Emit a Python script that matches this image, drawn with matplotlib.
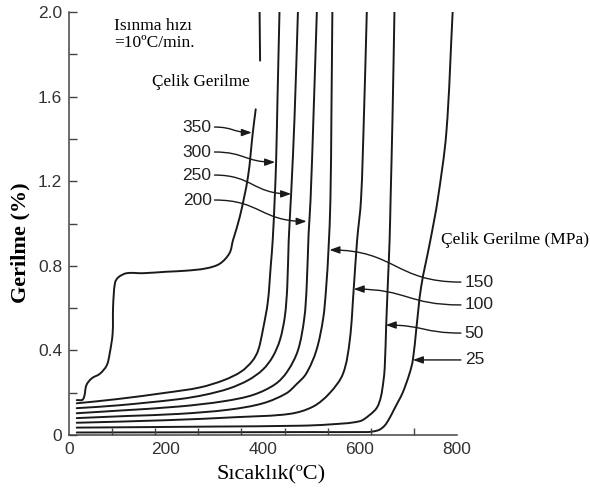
import numpy as np
import matplotlib
matplotlib.use("Agg")
import matplotlib.pyplot as plt
from matplotlib.path import Path
from matplotlib.patches import FancyArrowPatch, PathPatch

nan = np.nan

# Strain (%) vs temperature (deg C) for each steel stress level (MPa)
t_350 = [16, 29, 36, 47, 64, 78, 84, 90, 91, 95, 102, 119, 153, 201, 242, 283, 311, 331, 338, 352, 369, 379, 385, nan, 394, 393]
e_350 = [0.165, 0.169, 0.236, 0.268, 0.29, 0.33, 0.386, 0.48, 0.61, 0.72, 0.746, 0.765, 0.765, 0.772, 0.777, 0.788, 0.81, 0.86, 0.92, 1.03, 1.22, 1.43, 1.54, nan, 1.77, 2.0]

t_300 = [16, 100, 200, 270, 320, 355, 378, 390, 400, 410, 416, 420, 424, 427, 430, 434]
e_300 = [0.15, 0.17, 0.20, 0.225, 0.26, 0.30, 0.35, 0.40, 0.50, 0.63, 0.80, 0.92, 1.11, 1.29, 1.6, 2.0]

t_250 = [16, 100, 228, 280, 330, 370, 400, 420, 435, 445, 450, 453, 458, 465, 472]
e_250 = [0.127, 0.14, 0.17, 0.19, 0.22, 0.26, 0.31, 0.37, 0.45, 0.56, 0.70, 0.92, 1.14, 1.5, 2.0]

t_200 = [16, 100, 228, 320, 380, 425, 450, 472, 485, 490, 494, 498, 504, 511]
e_200 = [0.103, 0.115, 0.135, 0.16, 0.19, 0.24, 0.30, 0.40, 0.55, 0.70, 0.95, 1.11, 1.5, 2.0]

t_150 = [16, 120, 228, 330, 400, 448, 469, 489, 510, 524, 530, 535, 539, 541, 543]
e_150 = [0.08, 0.09, 0.10, 0.12, 0.15, 0.197, 0.24, 0.29, 0.40, 0.55, 0.69, 0.875, 1.11, 1.5, 2.0]

t_100 = [16, 200, 350, 455, 503, 537, 565, 579, 587, 594, 602, 608, 614]
e_100 = [0.058, 0.07, 0.085, 0.10, 0.134, 0.197, 0.29, 0.45, 0.69, 0.92, 1.11, 1.5, 2.0]

t_50 = [16, 300, 476, 537, 599, 620, 635, 643, 648, 651, 654, 658, 661, 663, 667, 671]
e_50 = [0.035, 0.04, 0.044, 0.05, 0.065, 0.095, 0.13, 0.18, 0.25, 0.32, 0.52, 0.75, 0.92, 1.11, 1.5, 2.0]

t_25 = [16, 300, 500, 610, 625, 640, 651, 661, 670, 678, 688, 702, 709, 716, 726, 745, 760, 778, 791]
e_25 = [0.012, 0.013, 0.014, 0.014, 0.016, 0.025, 0.045, 0.08, 0.12, 0.155, 0.20, 0.29, 0.355, 0.5, 0.70, 0.92, 1.11, 1.43, 2.0]

curves = [(t_350, e_350), (t_300, e_300), (t_250, e_250), (t_200, e_200),
          (t_150, e_150), (t_100, e_100), (t_50, e_50), (t_25, e_25)]

x_ticks = [0, 200, 400, 600, 800]
y_ticks = [0, 0.4, 0.8, 1.2, 1.6, 2.0]
y_tick_labels = ["0", "0.4", "0.8", "1.2", "1.6", "2.0"]

# Stress labels: text, label anchor (T, strain), arrow tip (T, strain)
left_labels = [("350", (300, 1.456), (377, 1.43)),
               ("300", (300, 1.338), (425, 1.29)),
               ("250", (300, 1.229), (458, 1.14)),
               ("200", (300, 1.111), (490, 1.01))]
right_labels = [("150", (808, 0.723), (537, 0.875)),
                ("100", (808, 0.615), (587, 0.69)),
                ("50", (808, 0.482), (653, 0.52)),
                ("25", (808, 0.355), (709, 0.355))]

SANS = ["Liberation Sans", "DejaVu Sans"]
SERIF = ["Liberation Serif", "DejaVu Serif"]
INK = "#1a1a1a"

fig = plt.figure(figsize=(5.9, 4.93), dpi=100)
ax = fig.add_axes([0.1169, 0.1176, 0.6577, 0.8581])
ax.set_xlim(0, 800)
ax.set_ylim(0, 2.0)

# approximate pixel scale of the axes, used so the curve smoothing is isotropic
SX, SY = 388 / 800.0, 423 / 2.0


def smooth_path(t, e):
    """Bezier path passing through every given point, with tangents taken
    from neighbouring points (no overshoot on uneven spacing)."""
    verts, codes = [], []
    t = np.asarray(t, float)
    e = np.asarray(e, float)
    breaks = np.where(np.isnan(t))[0]
    pieces = np.split(np.arange(len(t)), breaks)
    for idx in pieces:
        idx = idx[~np.isnan(t[idx])]
        if len(idx) < 2:
            continue
        p = np.column_stack([t[idx] * SX, e[idx] * SY])
        n = len(p)
        tang = np.zeros_like(p)
        for i in range(n):
            a = p[max(i - 1, 0)]
            b = p[min(i + 1, n - 1)]
            d = b - a
            tang[i] = d / np.hypot(*d)
        verts.append(p[0]); codes.append(Path.MOVETO)
        for i in range(n - 1):
            L = np.hypot(*(p[i + 1] - p[i])) / 3.0
            verts.append(p[i] + tang[i] * L); codes.append(Path.CURVE4)
            verts.append(p[i + 1] - tang[i + 1] * L); codes.append(Path.CURVE4)
            verts.append(p[i + 1]); codes.append(Path.CURVE4)
    v = np.array(verts)
    v[:, 0] /= SX
    v[:, 1] /= SY
    return Path(v, codes)


for t, e in curves:
    ax.add_patch(PathPatch(smooth_path(t, e), fill=False, edgecolor=INK, lw=1.4,
                           joinstyle="round", capstyle="round"))

for s in ("top", "right"):
    ax.spines[s].set_visible(False)
for s in ("left", "bottom"):
    ax.spines[s].set_color("#444444")
    ax.spines[s].set_linewidth(1.1)

ax.set_xticks(x_ticks)
ax.set_xticklabels([str(v) for v in x_ticks], fontfamily=SANS, fontsize=12.5, color="#333333")
ax.set_xticks(np.linspace(0, 800, 10), minor=True)
ax.tick_params(axis="x", which="major", length=0, pad=5)
ax.tick_params(axis="x", which="minor", direction="in", length=5, width=1.0, color="#444444")

ax.set_yticks(y_ticks)
ax.set_yticklabels(y_tick_labels, fontfamily=SANS, fontsize=12.5, color="#333333")
ax.set_yticks([0.2, 0.6, 1.0, 1.4, 1.8], minor=True)
ax.tick_params(axis="y", which="both", direction="in", length=5.5, width=1.0, color="#444444", pad=5)

ax.set_xlabel("Sıcaklık(ºC)", fontfamily=SERIF, fontsize=16)
ax.xaxis.set_label_coords(0.52, -0.072)
ax.set_ylabel("Gerilme (%)", fontfamily=SERIF, fontsize=16, fontweight="bold")
ax.yaxis.set_label_coords(-0.098, 0.454)

ax.text(93, 1.97, "Isınma hızı\n=10ºC/min.", fontfamily=SERIF, fontsize=12.5,
        ha="left", va="top", linespacing=1.05)
ax.text(172, 1.67, "Çelik Gerilme", fontfamily=SERIF, fontsize=12.3, ha="left", va="center")
ax.text(768, 0.92, "Çelik Gerilme (MPa)", fontfamily=SERIF, fontsize=12.5,
        ha="left", va="center", clip_on=False)


def s_arrow(start, tip):
    (x0, y0), (x1, y1) = start, tip
    xm = 0.5 * (x0 + x1)
    path = Path([(x0, y0), (xm, y0), (xm, y1), (x1, y1)],
                [Path.MOVETO, Path.CURVE4, Path.CURVE4, Path.CURVE4])
    arr = FancyArrowPatch(path=path, transform=ax.transData,
                          arrowstyle="-|>,head_length=0.5,head_width=0.18",
                          mutation_scale=12, color=INK, lw=1.0, clip_on=False)
    ax.add_patch(arr)


for txt, anchor, tip in left_labels:
    ax.text(anchor[0] - 6, anchor[1], txt, fontfamily=SANS, fontsize=12.5,
            ha="right", va="center", color="#222222")
    s_arrow(anchor, tip)

for txt, anchor, tip in right_labels:
    ax.text(anchor[0] + 8, anchor[1], txt, fontfamily=SANS, fontsize=12.5,
            ha="left", va="center", color="#222222", clip_on=False)
    s_arrow(anchor, tip)

fig.savefig("out.png", dpi=100)
